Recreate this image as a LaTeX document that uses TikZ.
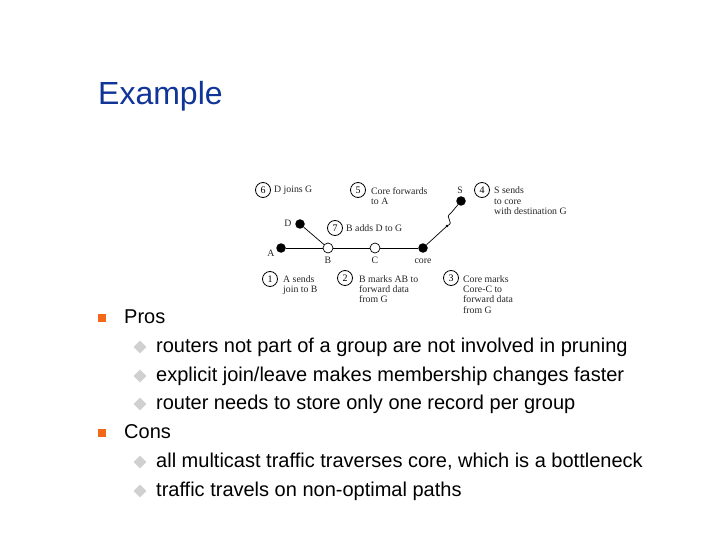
\documentclass[tikz,border=0pt]{standalone}
\usepackage{fontspec}
\setmainfont{Liberation Sans}
\newfontfamily\serifdiag{Liberation Serif}
\usetikzlibrary{shapes.geometric}
\definecolor{titleblue}{RGB}{16,52,152}
\definecolor{bulor}{RGB}{240,104,24}
\definecolor{bulgr}{RGB}{208,208,208}
\tikzset{
  x=1pt,y=-1pt,
  titletext/.style={anchor=base west,inner sep=0,text=titleblue,font=\fontsize{32}{36}\selectfont},
  lvlone/.style={anchor=base west,inner sep=0,font=\fontsize{20}{24}\selectfont},
  lvltwo/.style={anchor=base west,inner sep=0,font=\fontsize{20}{24}\selectfont},
  sqbul/.style={rectangle,fill=bulor,minimum size=8pt,inner sep=0},
  dibul/.style={diamond,fill=bulgr,minimum size=13pt,inner sep=0},
  blk/.style={circle,fill=black,minimum size=9.5pt,inner sep=0},
  wht/.style={circle,draw=black,fill=white,line width=0.7pt,minimum size=10pt,inner sep=0},
  num/.style={circle,draw=black,line width=0.8pt,minimum size=15pt,inner sep=0,font=\serifdiag\fontsize{10}{10}\selectfont},
  lab/.style={anchor=north west,align=left,inner sep=0,text=black!85,font=\serifdiag\fontsize{9.8}{10.4}\selectfont},
  nm/.style={inner sep=0,text=black!85,font=\serifdiag\fontsize{9.8}{10}\selectfont},
  link/.style={draw=black,line width=0.7pt}
}
\begin{document}
\begin{tikzpicture}
\useasboundingbox[fill=white] (0,0) rectangle (720,540);
\node[titletext] (title) at (98,105) {Example};
% diagram
\node[blk] (A) at (281,248) {};
\node[wht] (B) at (328,248) {};
\node[wht] (C) at (375,248) {};
\node[blk] (core) at (423,248) {};
\node[blk] (D) at (300,224) {};
\node[blk] (S) at (461,201) {};
\coordinate (brk1) at (447,226);
\coordinate (brk2) at (451,213);
\draw[link] (A) -- (B);
\draw[link] (B) -- (C);
\draw[link] (C) -- (core);
\draw[link] (D) -- (B);
\draw[link] (core) -- (brk1);
\draw[link] (brk2) -- (S);
\draw[link] (brk1) .. controls (456,222) and (443,218) .. (brk2);
\fill (brk1) circle (1.4);
\node[nm] (nA) at (271,253) {A};
\node[nm] (nB) at (328,260) {B};
\node[nm] (nC) at (375,260) {C};
\node[nm] (ncore) at (423,261) {core};
\node[nm] (nD) at (288,223) {D};
\node[nm] (nS) at (460,190) {S};
\node[num] (n6) at (263,190) {6};
\node[lab] (t6) at (274,186) {D joins G};
\node[num] (n5) at (358,190) {5};
\node[lab] (t5) at (371,187) {Core forwards\\to A};
\node[num] (n7) at (335,228) {7};
\node[lab] (t7) at (346,224) {B adds D to G};
\node[num] (n1) at (270,279) {1};
\node[lab] (t1) at (283,275) {A sends\\join to B};
\node[num] (n2) at (345,278) {2};
\node[lab] (t2) at (359,275) {B marks AB to\\forward data\\from G};
\node[num] (n3) at (451,278) {3};
\node[lab] (t3) at (463,275) {Core marks\\Core-C to\\forward data\\from G};
\node[num] (n4) at (482,190) {4};
\node[lab] (t4) at (494,187) {S sends\\to core\\with destination G};
% bullets
\node[sqbul] (b1) at (102,318) {};
\node[sqbul] (b2) at (102,433) {};
\node[dibul] (d1) at (140,347) {};
\node[dibul] (d2) at (140,376) {};
\node[dibul] (d3) at (140,404) {};
\node[dibul] (d4) at (140,462) {};
\node[dibul] (d5) at (140,491) {};
\node[lvlone] (p) at (124,323) {Pros};
\node[lvltwo] (p1) at (156,352) {routers not part of a group are not involved in pruning};
\node[lvltwo] (p2) at (156,381) {explicit join/leave makes membership changes faster};
\node[lvltwo] (p3) at (156,409) {router needs to store only one record per group};
\node[lvlone] (c) at (124,438) {Cons};
\node[lvltwo] (c1) at (156,467) {all multicast traffic traverses core, which is a bottleneck};
\node[lvltwo] (c2) at (156,496) {traffic travels on non-optimal paths};
\end{tikzpicture}
\end{document}
